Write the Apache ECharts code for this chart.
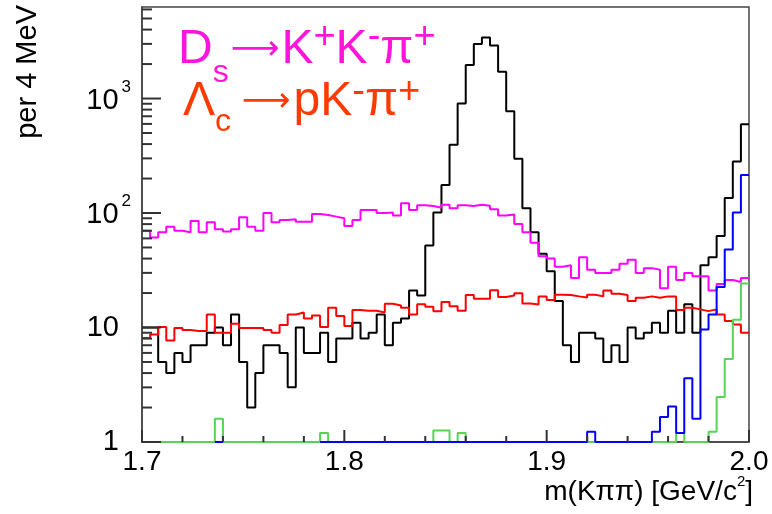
<!DOCTYPE html>
<html lang="en">
<head>
<meta charset="UTF-8">
<title>m(Kpipi)</title>
<script src="https://cdn.jsdelivr.net/npm/echarts@6.0.0/dist/echarts.min.js"></script>
<style>
  html, body { margin: 0; padding: 0; background: #fff; }
  #chart { width: 772px; height: 514px; }
</style>
</head>
<body>
<div id="chart"></div>
<script>
// 75 bins of 4 MeV, 1.70 - 2.00 GeV
var binLow = 1.7;
var binWidth = 0.004;

// all candidates (black)
var countsAll = [
  10, 10, 5, 4, 6, 5, 7, 7, 9, 10, 7, 13, 5, 2, 4,
  7, 7, 6, 3, 10, 6, 6, 9, 5, 8, 8, 11, 8, 9, 13,
  7, 11, 12, 21, 19, 52, 101, 176, 395, 904, 1960, 2995, 3408, 2900, 1715,
  774, 298, 110, 68, 44, 31, 17, 7, 5, 9, 9, 8, 5, 7, 5,
  10, 8, 9, 11, 9, 14, 9, 16, 9, 35, 41, 63, 135, 282, 595
];
// Ds -> K+K-pi+ (magenta)
var countsDs = [
  70, 61, 68, 76, 70, 68, 85, 68, 83, 72, 69, 72, 92, 76, 70,
  100, 83, 87, 88, 84, 84, 98, 96, 93, 90, 77, 87, 106, 106, 100,
  101, 95, 122, 106, 117, 115, 111, 118, 110, 117, 115, 118, 116, 108, 95,
  97, 80, 68, 55, 42, 40, 34, 35, 27, 41, 32, 30, 30, 32, 36,
  39, 30, 33, 32, 22, 34, 26, 30, 28, 28, 21, 24, 26, 25, 27
];
// Lambda_c -> pK-pi+ (red)
var countsLc = [
  8.1, 8.7, 10.1, 7.7, 9.9, 9.5, 9.3, 9.3, 13, 9, 9, 10.8, 9.9, 9.9, 9.9,
  9.5, 9, 10.5, 13, 13.5, 12, 12.7, 10.1, 14.9, 12.6, 10.3, 14.2, 14, 14, 13.5,
  16.1, 15.6, 14.9, 13, 16, 15.2, 13.9, 16.7, 15.3, 14, 19.2, 17.8, 17.8, 21.2, 18.5,
  19, 19.9, 16.2, 15.9, 18.7, 17.4, 19.3, 19.2, 18.7, 18.3, 19.3, 18.7, 21, 19.7, 19.2,
  17, 18.2, 18.7, 18.2, 18.7, 18.7, 14.2, 14.9, 14.4, 13.9, 14.4, 13, 11.4, 10.6, 9
];
// blue (null = empty bin, not drawn)
var countsBlue = [
  null, null, null, null, null, null, null, null, null, 1, null, null, null, null, null,
  null, null, null, null, null, null, null, 1, 1, 1, 1, 1, 1, 1, 1,
  1, 1, 1, 1, 1, 1, 1, 1, 1, 1, 1, 1, 1, 1, 1,
  1, 1, 1, 1, 1, 1, 1, 1, 1, 1, 1.23, 1, 1, 1, 1,
  1, 1, 1, 1.23, 1.65, 2.04, 1.2, 3.6, 1.6, 9.6, 13, 22.6, 48, 101, 215
];
// green
var countsGreen = [
  1, 1, 1, 1, 1, 1, 1, 1, 1, 1.6, 1, 1, 1, 1, 1,
  1, 1, 1, 1, 1, 1, 1, 1.2, 1, 1, 1, 1, 1, 1, 1,
  1, 1, 1, 1, 1, 1, 1.26, 1.26, 1, 1.2, 1, 1, 1, 1, 1,
  1, 1, 1, 1, 1, 1, 1, 1, 1, 1, 1, 1, 1, 1, 1,
  1, 1, 1, 1, 1, 1, 1.2, 1, 1, 1, 1.23, 2.47, 5.3, 11.7, 24.2
];

var xMajorTicks = [1.7, 1.8, 1.9, 2.0];
var xMinorTicks = [1.72, 1.74, 1.76, 1.78, 1.82, 1.84, 1.86, 1.88, 1.92, 1.94, 1.96, 1.98];
var yTickValues = [1, 10, 100, 1000];
var yTickText = ['{n|1}', '{n|10}', '{b|10}{e|2}', '{b|10}{e|3}'];
var yMinorMult = [2, 3, 4, 5, 6, 7, 8, 9];
var yMax = 6300;

var FONT = 'Liberation Sans';
var FRAME_COLOR = '#444';
var TICK_COLOR = '#333';

// outline of a histogram: horizontal step over each bin
function histPoints(values) {
  var pts = [];
  for (var i = 0; i < values.length; i++) {
    var lo = +(binLow + i * binWidth).toFixed(3);
    var hi = +(binLow + (i + 1) * binWidth).toFixed(3);
    if (values[i] == null) {
      pts.push([lo, null]);
      continue;
    }
    pts.push([lo, values[i]], [hi, values[i]]);
  }
  return pts;
}

// log-axis minor tick positions (2..9 in each decade)
var yMinor = [];
yTickValues.forEach(function (d) {
  yMinorMult.forEach(function (m) {
    if (d * m < yMax) yMinor.push([binLow, d * m]);
  });
});

function histSeries(name, values, color, width) {
  return {
    name: name,
    type: 'line',
    data: histPoints(values),
    symbol: 'none',
    clip: false,
    connectNulls: false,
    lineStyle: { color: color, width: width },
    animation: false
  };
}

// tick marks drawn as thin rects on the axis through the axis scales
function tickSeries(name, data, size, offset) {
  return {
    name: name,
    type: 'scatter',
    silent: true,
    clip: false,
    animation: false,
    data: data,
    symbol: 'rect',
    symbolSize: size,
    symbolOffset: offset,
    itemStyle: { color: TICK_COLOR, opacity: 1, borderWidth: 0, borderColor: TICK_COLOR },
    emphasis: { disabled: true },
    z: 3
  };
}

var chart = echarts.init(document.getElementById('chart'));
var option = {
  backgroundColor: '#fff',
  animation: false,
  textStyle: { fontFamily: FONT },
  grid: {
    left: 142, right: 23, top: 7, bottom: 72,
    show: true, borderColor: FRAME_COLOR, borderWidth: 1.5, backgroundColor: 'transparent'
  },
  xAxis: {
    type: 'value',
    min: 1.7, max: 2.0, interval: 0.1,
    axisLine: { show: true, lineStyle: { color: FRAME_COLOR, width: 1.5 } },
    axisTick: { show: false },
    splitLine: { show: false },
    axisLabel: {
      margin: 6, fontSize: 28, color: '#000', fontFamily: FONT,
      formatter: function (v) { return v.toFixed(1); }
    }
  },
  yAxis: {
    type: 'log', logBase: 10,
    min: 1, max: yMax,
    axisLine: { show: true, lineStyle: { color: FRAME_COLOR, width: 1.5 } },
    axisTick: { show: false },
    splitLine: { show: false },
    axisLabel: {
      margin: 11, color: '#000', fontFamily: FONT,
      formatter: function (v) {
        for (var i = 0; i < yTickValues.length; i++) {
          if (Math.abs(v - yTickValues[i]) < 1e-6 * yTickValues[i]) return yTickText[i];
        }
        return '';
      },
      rich: {
        n: { fontSize: 29, fontFamily: FONT, color: '#000', padding: [0, 12, 0, 0], lineHeight: 40 },
        b: { fontSize: 29, fontFamily: FONT, color: '#000', lineHeight: 40, padding: [4, 0, 0, 0] },
        e: { fontSize: 17, fontFamily: FONT, color: '#000', verticalAlign: 'top', lineHeight: 17, padding: [0, 0, 0, 3] }
      }
    }
  },
  graphic: [
    {
      type: 'text', x: 28, y: 5, rotation: Math.PI / 2,
      style: { text: 'per 4 MeV', fontSize: 29, fontFamily: FONT, fill: '#000', align: 'right', verticalAlign: 'middle' }
    },
    {
      type: 'text', x: 753, y: 492,
      style: {
        text: '{a|m(Kππ) [GeV/c}{s|2}{a|]}', align: 'right', verticalAlign: 'middle',
        rich: {
          a: { fontSize: 28, fontFamily: FONT, fill: '#000', lineHeight: 36 },
          s: { fontSize: 15, fontFamily: FONT, fill: '#000', verticalAlign: 'top', lineHeight: 15 }
        }
      }
    },
    {
      type: 'text', x: 178, y: 11,
      style: {
        text: '{a|D}{s|s}{r|⟶}{a|K}{p|+}{a|K}{p|-}{a|π}{p|+}', align: 'left', verticalAlign: 'top',
        rich: {
          a: { fontSize: 48, fontFamily: FONT, fill: '#ff14dc', lineHeight: 78 },
          r: { fontSize: 34, fontFamily: 'DejaVu Sans', fill: '#ff14dc', lineHeight: 78, padding: [0, 2, 0, 2] },
          s: { fontSize: 32, fontFamily: FONT, fill: '#ff14dc', verticalAlign: 'bottom', lineHeight: 22 },
          p: { fontSize: 38, fontFamily: FONT, fill: '#ff14dc', verticalAlign: 'top', lineHeight: 67, padding: [8, 0, 0, 0] }
        }
      }
    },
    {
      type: 'text', x: 183, y: 66,
      style: {
        text: '{a|Λ}{s|c}{r| ⟶}{a|pK}{p|-}{a|π}{p|+}', align: 'left', verticalAlign: 'top',
        rich: {
          a: { fontSize: 48, fontFamily: FONT, fill: '#ff3a00', lineHeight: 72 },
          r: { fontSize: 34, fontFamily: 'DejaVu Sans', fill: '#ff3a00', lineHeight: 72, padding: [0, 3, 0, 0] },
          s: { fontSize: 32, fontFamily: FONT, fill: '#ff3a00', verticalAlign: 'bottom', lineHeight: 28 },
          p: { fontSize: 38, fontFamily: FONT, fill: '#ff3a00', verticalAlign: 'top', lineHeight: 72, padding: [8, 0, 0, 0] }
        }
      }
    }
  ],
  series: [
    histSeries('all', countsAll, '#000000', 2),
    histSeries('Ds', countsDs, '#ff00ff', 2),
    histSeries('Lc', countsLc, '#ff0000', 2),
    histSeries('green', countsGreen, '#55d455', 2),
    histSeries('blue', countsBlue, '#0000ff', 2),
    tickSeries('yMajorTicks', yTickValues.map(function (v) { return [binLow, v]; }), [19, 2], [9.5, 0]),
    tickSeries('yMinorTicks', yMinor, [10, 2], [5, 0]),
    tickSeries('xMajorTicks', xMajorTicks.map(function (v) { return [v, 1]; }), [2, 12], [0, -6]),
    tickSeries('xMinorTicks', xMinorTicks.map(function (v) { return [v, 1]; }), [2, 6], [0, -3])
  ]
};
chart.setOption(option);
</script>
</body>
</html>
